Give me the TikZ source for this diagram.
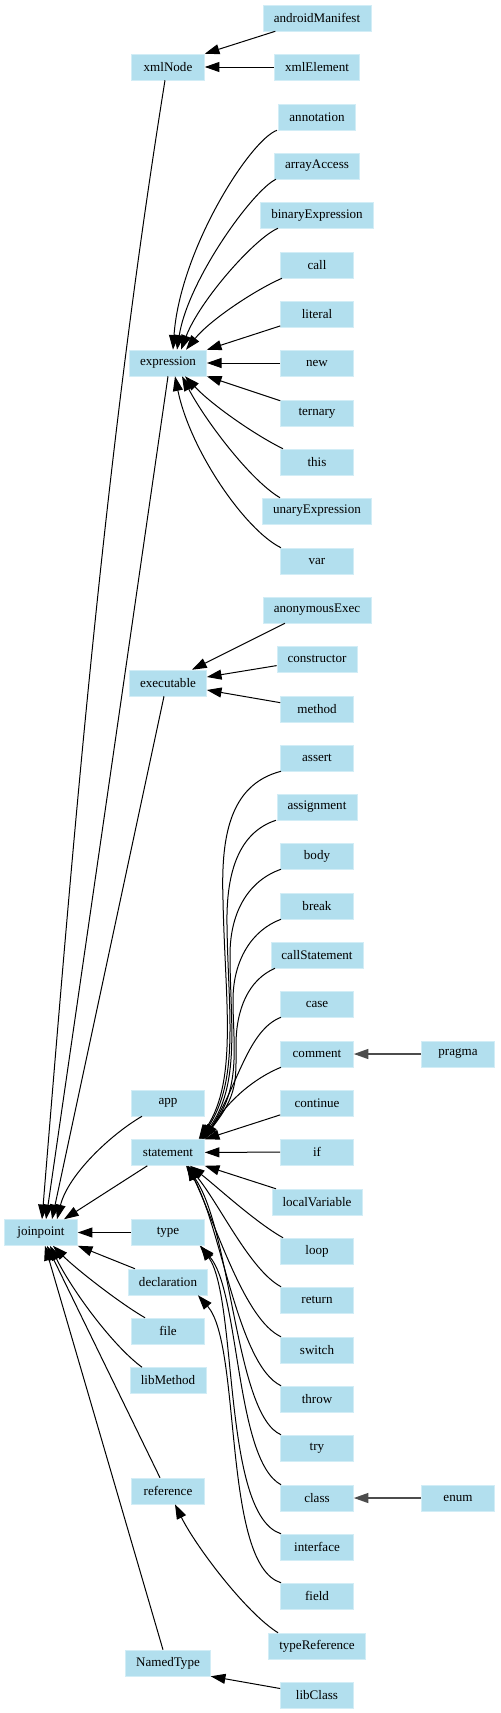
\documentclass[tikz,border=0pt]{standalone}
\usepackage{fontspec}
\setmainfont{Liberation Serif}
\usetikzlibrary{arrows.meta, calc}
\definecolor{nodeblue}{RGB}{178,223,238}
\definecolor{nodeedge}{RGB}{210,237,246}

\begin{document}
\begin{tikzpicture}[
    x=0.75pt, y=-0.75pt,
    jp/.style={rectangle, fill=nodeblue, draw=nodeedge, line width=0.4pt,
               minimum width=54.75pt, minimum height=19.5pt,
               inner xsep=8pt, inner ysep=0pt,
               font=\fontsize{9.8pt}{11pt}\selectfont},
    isa/.style={-{Triangle[length=11pt, width=7.5pt]}, line width=0.75pt},
    isagray/.style={isa, draw=black!70, line width=1.1pt}
]
\useasboundingbox (0,0) rectangle (500,1713);

% root and second column
\node[jp] (joinpoint) at (41,1232.5) {joinpoint};
\node[jp] (xmlNode) at (168,67) {xmlNode};
\node[jp] (expression) at (168,363) {expression};
\node[jp] (executable) at (168,683) {executable};
\node[jp] (app) at (168,1103) {app};
\node[jp] (statement) at (168,1152.5) {statement};
\node[jp] (type) at (168,1232.5) {type};
\node[jp] (declaration) at (168,1282) {declaration};
\node[jp] (file) at (168,1331) {file};
\node[jp] (libMethod) at (168,1380.5) {libMethod};
\node[jp] (reference) at (168,1491) {reference};
\node[jp] (NamedType) at (168,1663) {NamedType};

% third column
\node[jp] (androidManifest) at (317,18) {androidManifest};
\node[jp] (xmlElement) at (317,67) {xmlElement};
\node[jp] (annotation) at (317,117) {annotation};
\node[jp] (arrayAccess) at (317,166) {arrayAccess};
\node[jp] (binaryExpression) at (317,215) {binaryExpression};
\node[jp] (call) at (317,265) {call};
\node[jp] (literal) at (317,314) {literal};
\node[jp] (new) at (317,363) {new};
\node[jp] (ternary) at (317,413) {ternary};
\node[jp] (this) at (317,462) {this};
\node[jp] (unaryExpression) at (317,511) {unaryExpression};
\node[jp] (var) at (317,561) {var};
\node[jp] (anonymousExec) at (317,610) {anonymousExec};
\node[jp] (constructor) at (317,659) {constructor};
\node[jp] (method) at (317,709) {method};
\node[jp] (assert) at (317,758) {assert};
\node[jp] (assignment) at (317,807) {assignment};
\node[jp] (body) at (317,856) {body};
\node[jp] (break) at (317,906) {break};
\node[jp] (callStatement) at (317,955) {callStatement};
\node[jp] (case) at (317,1004) {case};
\node[jp] (comment) at (317,1054) {comment};
\node[jp] (continue) at (317,1103) {continue};
\node[jp] (if) at (317,1152) {if};
\node[jp] (localVariable) at (317,1202) {localVariable};
\node[jp] (loop) at (317,1251) {loop};
\node[jp] (return) at (317,1300) {return};
\node[jp] (switch) at (317,1350) {switch};
\node[jp] (throw) at (317,1399) {throw};
\node[jp] (try) at (317,1448) {try};
\node[jp] (class) at (317,1498) {class};
\node[jp] (interface) at (317,1547) {interface};
\node[jp] (field) at (317,1596) {field};
\node[jp] (typeReference) at (317,1646) {typeReference};
\node[jp] (libClass) at (317,1695) {libClass};

% fourth column
\node[jp] (pragma) at (458,1054) {pragma};
\node[jp] (enum) at (458,1498) {enum};

% xmlNode
\draw[isa] (androidManifest) -- (xmlNode.north east);
\draw[isa] (xmlElement) -- (xmlNode);
\draw[isa] ($(xmlNode.south)+(-3,0)$) .. controls (104,460) and (73,839) .. ($(joinpoint.north)+(1,0)$);

% expression
\draw[isa] ($(annotation.south)+(-40,0)$) .. controls (250,140) and (180,250) .. ($(expression.north)+(5,0)$);
\draw[isa] ($(arrayAccess.south)+(-41,0)$) .. controls (253,190) and (188,280) .. ($(expression.north)+(9,0)$);
\draw[isa] ($(binaryExpression.south)+(-39,0)$) .. controls (255,238) and (200,300) .. ($(expression.north)+(13,0)$);
\draw[isa] ($(call.south)+(-35,0)$) .. controls (255,290) and (210,320) .. ($(expression.north)+(18,0)$);
\draw[isa] (literal) -- (expression.north east);
\draw[isa] (new) -- (expression);
\draw[isa] (ternary) -- (expression.south east);
\draw[isa] ($(this.north)+(-34,0)$) .. controls (255,435) and (212,405) .. ($(expression.south)+(17,0)$);
\draw[isa] ($(unaryExpression.north)+(-37,0)$) .. controls (250,480) and (205,420) .. ($(expression.south)+(14,0)$);
\draw[isa] ($(var.north)+(-36,0)$) .. controls (245,530) and (190,450) .. ($(expression.south)+(7,0)$);
\draw[isa] (expression.south) -- ($(joinpoint.north)+(5,0)$);

% executable
\draw[isa] ($(anonymousExec.south)+(-32,0)$) -- ($(executable.north)+(24,0)$);
\draw[isa] (constructor) -- ($(executable.east)+(0,-6)$);
\draw[isa] (method) -- ($(executable.east)+(0,7)$);
\draw[isa] ($(executable.south)+(-4,0)$) -- ($(joinpoint.north)+(11,0)$);

% statement
\draw[isa] ($(assert.south)+(-36,0)$) .. controls (228,785) and (221,840) .. (223,900)
    .. controls (225,1000) and (238,1080) .. ($(statement.north east)+(-6,0)$);
\draw[isa] ($(assignment.south)+(-41,0)$) .. controls (240,832) and (226,870) .. (227,925)
    .. controls (228,1010) and (240,1080) .. ($(statement.north east)+(-5,0)$);
\draw[isa] ($(body.south)+(-36,0)$) .. controls (250,880) and (230,910) .. (230,955)
    .. controls (230,1020) and (241,1085) .. ($(statement.north east)+(-4,0)$);
\draw[isa] ($(break.south)+(-36,0)$) .. controls (252,930) and (233,960) .. (233,1000)
    .. controls (233,1045) and (242,1090) .. ($(statement.north east)+(-3,0)$);
\draw[isa] ($(callStatement.south)+(-42,0)$) .. controls (248,980) and (236,1010) .. (236,1045)
    .. controls (236,1080) and (238,1095) .. ($(statement.north east)+(-2,0)$);
\draw[isa] ($(case.south)+(-36,0)$) .. controls (248,1030) and (238,1085) .. ($(statement.north east)+(-1,0)$);
\draw[isa] ($(comment.south)+(-36,0)$) .. controls (250,1080) and (225,1105) .. (statement.north east);
\draw[isa] (continue) -- (statement.north east);
\draw[isa] (if) -- (statement);
\draw[isa] (localVariable) -- (statement.south east);
\draw[isa] ($(loop.north)+(-34,0)$) .. controls (255,1222) and (215,1185) .. ($(statement.south)+(22,0)$);
\draw[isa] ($(return.north)+(-36,0)$) .. controls (250,1270) and (220,1205) .. ($(statement.south)+(20,0)$);
\draw[isa] ($(switch.north)+(-36,0)$) .. controls (245,1320) and (218,1230) .. ($(statement.south)+(20,0)$);
\draw[isa] ($(throw.north)+(-36,0)$) .. controls (238,1365) and (222,1230) .. ($(statement.south)+(19,0)$);
\draw[isa] ($(try.north)+(-36,0)$) .. controls (235,1415) and (232,1230) .. ($(statement.south)+(18,0)$);
\draw[isagray] (pragma) -- (comment);
\draw[isa] (statement) -- ($(joinpoint.north)+(23,0)$);

% type, declaration
\draw[isa] ($(class.north)+(-36,0)$) .. controls (235,1460) and (240,1290) .. ($(type.south east)+(-5,0)$);
\draw[isa] ($(interface.north)+(-36,0)$) .. controls (222,1515) and (238,1300) .. ($(type.south east)+(-4,0)$);
\draw[isa] ($(field.north)+(-36,0)$) .. controls (222,1565) and (242,1345) .. ($(declaration.south east)+(-10,0)$);
\draw[isagray] (enum) -- (class);

% joinpoint
\draw[isa] ($(app.south)+(-26,0)$) .. controls (110,1135) and (68,1175) .. ($(joinpoint.north)+(16,0)$);
\draw[isa] (type) -- (joinpoint);
\draw[isa] (declaration) -- (joinpoint.south east);
\draw[isa] ($(file.north)+(-23,0)$) .. controls (118,1302) and (75,1268) .. ($(joinpoint.south)+(12,0)$);
\draw[isa] ($(libMethod.north)+(-26,0)$) .. controls (112,1345) and (72,1290) .. ($(joinpoint.south)+(9,0)$);
\draw[isa] ($(reference.north)+(-8,0)$) -- ($(joinpoint.south)+(6,0)$);
\draw[isa] ($(NamedType.north)+(-5,0)$) -- ($(joinpoint.south)+(4,0)$);

% reference, NamedType
\draw[isa] ($(typeReference.north)+(-39,0)$) .. controls (245,1612) and (195,1545) .. ($(reference.south)+(7,0)$);
\draw[isa] (libClass) -- (NamedType.south east);
\end{tikzpicture}
\end{document}
